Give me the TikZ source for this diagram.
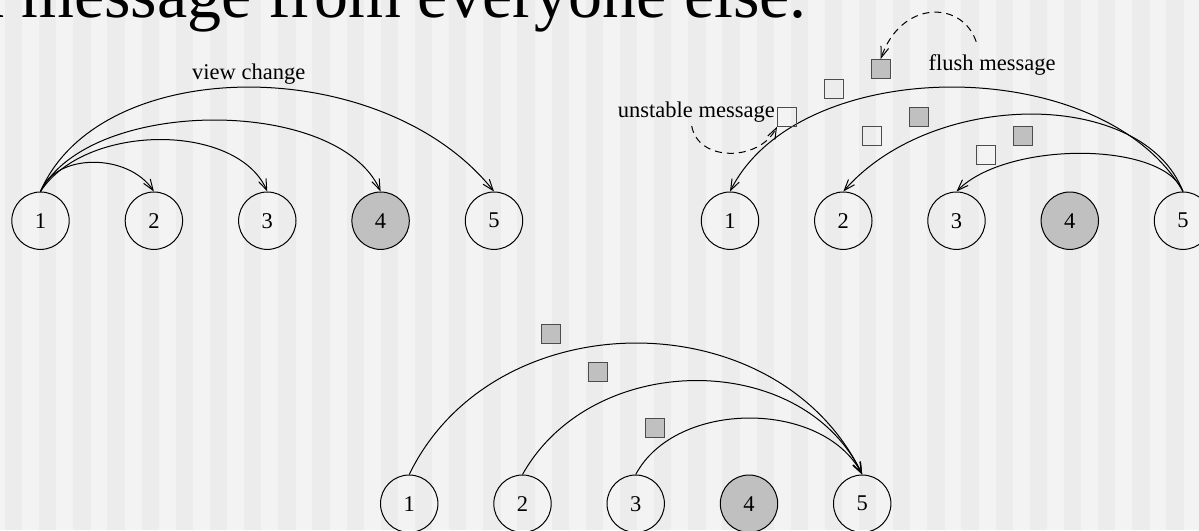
\documentclass[tikz,border=0pt]{standalone}
\usepackage{fontspec}
\setmainfont{Liberation Serif}
\usetikzlibrary{arrows.meta}
\definecolor{bgA}{HTML}{F3F3F3}
\definecolor{bgB}{HTML}{ECECEC}
\definecolor{crash}{HTML}{C0C0C0}
\newcommand\diaglbl{\fontsize{22.5}{27}\selectfont}
\begin{document}
\begin{tikzpicture}[x=1pt,y=-1pt,
  proc/.style={circle,draw,line width=1pt,minimum size=57.4pt,inner sep=0pt,font=\diaglbl},
  crashed/.style={proc,fill=crash},
  msg/.style={rectangle,draw=black!70,line width=1pt,minimum size=19pt,inner sep=0pt},
  flushmsg/.style={msg,fill=crash},
  link/.style={line width=1pt,-{Straight Barb[length=11pt,width=8pt]}},
  loopback/.style={link,dash pattern=on 7pt off 5pt},
  note/.style={font=\diaglbl,inner sep=0pt}]
\useasboundingbox (0,0) rectangle (1199,530);
\clip (0,0) rectangle (1199,530);
% background stripes
\fill[bgA] (0,0) rectangle (1199,530);
\foreach \k in {0,...,34} {\fill[bgB] ({5+\k*34.16},0) rectangle ++(17.3,530);}

% title (cut by the frame)
\node[inner sep=0pt,anchor=base east,font=\fontsize{68}{80}\selectfont] (title) at (807,17) {flush message from everyone else.};

% ---- top left: view change ----
\node[proc] (a1) at (40.5,220.7) {1};
\node[proc] (a2) at (153.9,220.7) {2};
\node[proc] (a3) at (267.3,220.7) {3};
\node[crashed] (a4) at (380.6,220.7) {4};
\node[proc] (a5) at (494,220.7) {5};
\draw[link] (a1.north) .. controls +(15,-38.7) and +(-26,-38.7) .. (a2.north);
\draw[link] (a1.north) .. controls +(45,-69) and +(-30,-69) .. (a3.north);
\draw[link] (a1.north) .. controls +(50,-95) and +(-42,-95) .. (a4.north);
\draw[link] (a1.north) .. controls +(60,-139) and +(-111,-139) .. (a5.north);
\node[note,anchor=base west] (vc) at (192,79) {view change};

% ---- top right: unstable + flush messages ----
\node[proc] (b1) at (730,220.7) {1};
\node[proc] (b2) at (843.3,220.7) {2};
\node[proc] (b3) at (956.5,220.7) {3};
\node[crashed] (b4) at (1069.8,220.7) {4};
\node[proc] (b5) at (1183,220.7) {5};
\draw[link] (b5.north) .. controls +(-80,-139) and +(70,-139) .. (b1.north);
\draw[link] (b5.north) .. controls +(-40,-103) and +(90,-103) .. (b2.north);
\draw[link] (b5.north) .. controls +(-20,-50.7) and +(50,-50.7) .. (b3.north);
\node[flushmsg] (f1) at (880.7,69) {};
\node[msg] (w1) at (833.8,88.5) {};
\node[msg] (u) at (787,116.7) {};
\node[flushmsg] (f2) at (919,116.7) {};
\node[msg] (w2) at (872,135.5) {};
\node[flushmsg] (f3) at (1023,135.5) {};
\node[msg] (w3) at (985.8,154.5) {};
\node[note,anchor=base west] (fl) at (928.5,70) {flush message};
\node[note,anchor=base east] (ul) at (775,117) {unstable message};
\coordinate (fs) at (976.2,41.7);
\draw[loopback] (fs) .. controls (962,0) and (901,0) .. (f1.north);
\coordinate (us) at (691.7,126);
\draw[loopback] (us) .. controls (698,162) and (759,162) .. (u.south west);

% ---- bottom: flush messages to 5 ----
\node[proc] (c1) at (409.2,503.7) {1};
\node[proc] (c2) at (522.5,503.7) {2};
\node[proc] (c3) at (635.7,503.7) {3};
\node[crashed] (c4) at (749,503.7) {4};
\node[proc] (c5) at (862.2,503.7) {5};
\draw[link] (c1.north) .. controls +(85,-175) and +(-85,-175) .. (c5.north);
\draw[link] (c2.north) .. controls +(70,-125) and +(-60,-125) .. (c5.north);
\draw[link] (c3.north) .. controls +(40,-75) and +(-40,-75) .. (c5.north);
\node[flushmsg] (g1) at (550.9,333.7) {};
\node[flushmsg] (g2) at (597.7,371.7) {};
\node[flushmsg] (g3) at (654.5,428) {};
\end{tikzpicture}
\end{document}
